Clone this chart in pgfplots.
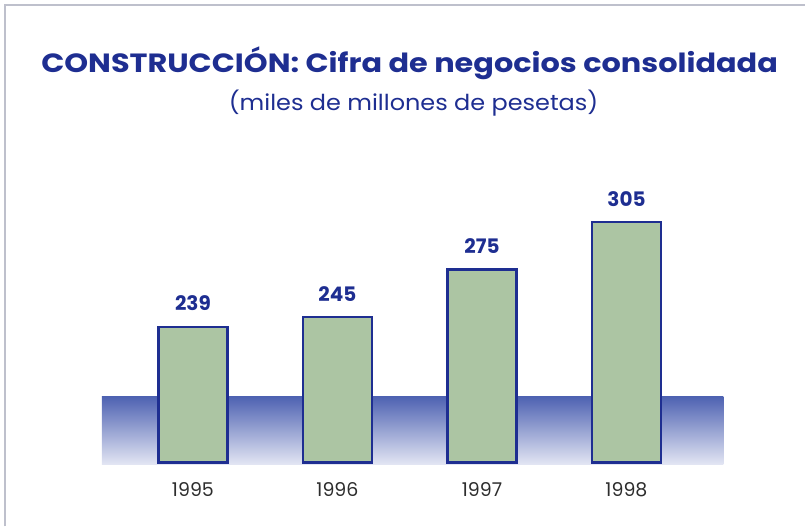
\documentclass[border=0pt]{standalone}
\usepackage{pgfplots}
\pgfplotsset{compat=1.18}
\usepackage{fontspec}
\setmainfont{Poppins}
\newfontfamily\titlefont[FakeStretch=1.15]{Poppins}
\newfontfamily\subfont[FakeStretch=1.09]{Poppins}
\definecolor{navy}{RGB}{30,46,145}
\definecolor{bargreen}{RGB}{172,197,163}
\definecolor{bandtop}{RGB}{78,98,178}
\definecolor{bandbot}{RGB}{226,229,243}
\definecolor{yeargray}{RGB}{45,45,45}
\definecolor{framegray}{RGB}{190,192,204}
\begin{document}
\begin{tikzpicture}
\path (0,0) rectangle (403pt,263.5pt);
\draw[framegray,line width=0.8pt] (2.5pt,0pt) -- (2.5pt,261pt) -- (403pt,261pt);
\node[font=\titlefont\bfseries\fontsize{13.2}{15}\selectfont,text=navy] at (205pt,232pt) {CONSTRUCCIÓN: Cifra de negocios consolidada};
\node[font=\subfont\fontsize{11}{13}\selectfont,text=navy] at (207pt,212pt) {(miles de millones de pesetas)};
\begin{axis}[
  at={(51pt,32pt)}, anchor=south west,
  scale only axis, width=311pt, height=131.5pt,
  xmin=-0.63, xmax=3.67, ymin=153.5, ymax=318.9,
  axis line style={draw=none}, tick style={draw=none},
  ytick=\empty,
  xtick={0,1,2,3}, xticklabels={1995,1996,1997,1998},
  xticklabel style={font=\fontsize{9.5}{11}\selectfont, text=yeargray, yshift=-6.5pt},
  /pgf/number format/assume math mode=true,
  clip=false,
]
\addplot[draw=none, top color=bandtop, bottom color=bandbot, shading angle=0]
  coordinates {(-0.63,152.5) (-0.63,195) (3.67,195) (3.67,152.5)} -- cycle;
\addplot[ybar, bar width=34.5pt, fill=bargreen, draw=navy, line width=1.1pt,
  nodes near coords,
  every node near coord/.append style={font=\bfseries\fontsize{10}{12}\selectfont, text=navy, yshift=4pt}]
  coordinates {(0,239) (1,245) (2,275) (3,305)};
\end{axis}
\end{tikzpicture}
\end{document}
